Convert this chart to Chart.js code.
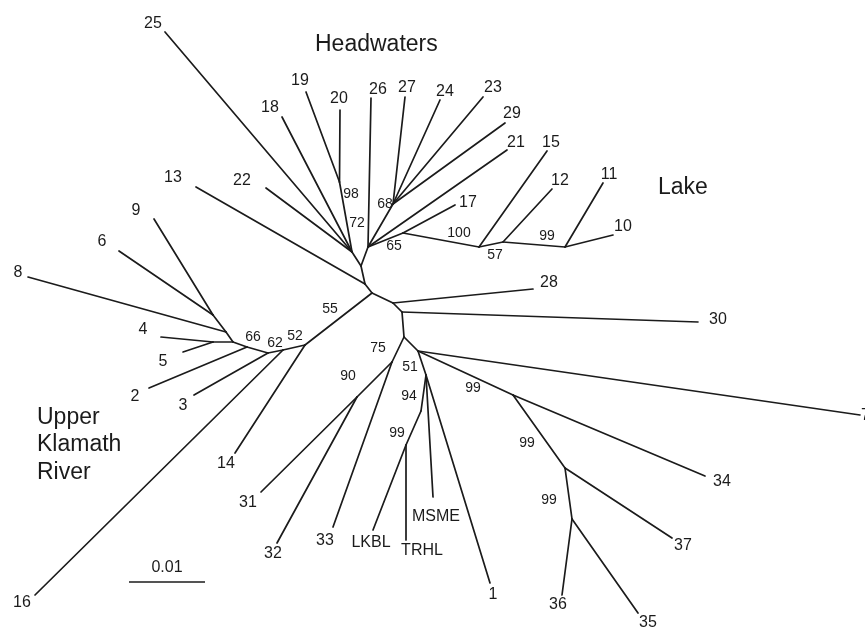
<!DOCTYPE html>
<html>
<head>
<meta charset="utf-8">
<script src="https://cdn.jsdelivr.net/npm/chart.js@4/dist/chart.umd.min.js"></script>
<style>
html,body{margin:0;padding:0;background:#fff;overflow:hidden}
#wrap{width:865px;height:629px}
</style>
</head>
<body>
<div id="wrap"><canvas id="c" width="865" height="629"></canvas></div>
<script>
// ---------------- DATA (tree layout units, x to the right, y downward) ----------------
// Terminal taxa
const tipNames = ['25','19','18','20','26','27','24','23','29','21','17','22','13','15','12','11','10','28','30','7','34','37','36','35','1','MSME','TRHL','LKBL','33','32','31','14','16','3','2','5','4','8','6','9'];
const tipX = [165,306,282,340,371,405,440,483,505,507,455,266,196,547,552,603,613,533,698,860,705,672,562,638,490,433,406,373,333,277,261,235,35,194,149,183,161,28,119,154];
const tipY = [32,92,117,110,98,97,100,97,123,150,205,188,187,151,189,183,235,289,322,415,476,538,595,613,583,497,540,530,527,543,492,453,595,395,388,352,337,277,251,219];

// Internal nodes
const innerNames = ['A','N13','H0','L','R','N98','N68','N17','N57','N12','N99L','N52','Na','Nb','Nc','Nd','N45','N8','N69','B','C','D','N75','N90','E','N99a','N99b','N99c','F','G','H'];
const innerX = [372,365,361,352,368,339.5,393,403,479,503,565,305,283,268,247,233,213,226,213,393,402,404,392,357,418,513,565,572,426,421,406];
const innerY = [293,284,266,252,247,182,204,233,247,242,247,345,350,353,347,342,342,332,315,303,312,337,362,397,351,395,468,519,375,411,445];

// Branches (parent -> child)
const edgeFrom = ['A','N13','N13','H0','H0','L','L','L','L','N98','N98','R','R','N68','N68','N68','N68','R','R','N17','N17','N57','N57','N12','N12','N99L','N99L',
  'A','N52','N52','Na','Na','Nb','Nb','Nc','Nc','Nd','N45','N45','Nd','N8','N8','N69','N69',
  'A','B','B','C','C','D','N75','N75','N90','N90','D','E','E','N99a','N99a','N99b','N99b','N99c','N99c','E','F','F','F','G','H','H'];
const edgeTo = ['N13','13','H0','L','R','25','18','22','N98','19','20','26','N68','27','24','23','29','21','N17','17','N57','15','N12','12','N99L','11','10',
  'N52','14','Na','16','Nb','3','Nc','2','Nd','N45','4','5','N8','8','N69','6','9',
  'B','28','C','30','D','N75','33','N90','31','32','E','7','N99a','34','N99b','37','N99c','36','35','F','1','MSME','G','H','LKBL','TRHL'];

// Bootstrap support values
const supportValues = [98,72,68,65,100,57,99,55,66,62,52,75,90,51,94,99,99,99,99];

// Region names
const regionNames = ['Headwaters','Lake','Upper','Klamath','River'];

// Scale bar (substitutions per site)
const scaleBarValue = 0.01;
const scaleBarLabel = '0.01';
const unitsPerSubstitution = 7600;

// ---------------- LAYOUT (label placement, pixels) ----------------
const tipLabelOffset = {
  '25':[-12,-8],'19':[-6,-11],'18':[-12,-9],'20':[-1,-11],'26':[7,-8],'27':[2,-9],'24':[5,-8],'23':[10,-9],
  '29':[7,-9],'21':[9,-7],'17':[13,-2],'22':[-24,-7],'13':[-23,-9],'15':[4,-8],'12':[8,-8],'11':[6,-8],
  '10':[10,-8],'28':[16,-6],'30':[20,-2],'7':[1,1],'34':[17,6],'37':[11,8],'36':[-4,10],'35':[10,10],
  '1':[3,12],'MSME':[3,20],'TRHL':[16,11],'LKBL':[-2,13],'33':[-8,14],'32':[-4,11],'31':[-13,11],
  '14':[-9,11],'16':[-13,8],'3':[-11,11],'2':[-14,9],'5':[-20,10],'4':[-18,-7],'8':[-10,-4],'6':[-17,-9],'9':[-18,-8]
};
const supportLabelPos = [[351,194],[357,223],[385,204],[394,246],[459,233],[495,255],[547,236],[330,309],[253,337],[275,343],[295,336],[378,348],[348,376],[410,367],[409,396],[397,433],[473,388],[527,443],[549,500]];
const regionLabelPos = [[315,51],[658,194],[37,424],[37,451],[37,479]];
const scaleBarStart = [129,582];

// ---------------- BUILD ----------------
const pos = {};
tipNames.forEach((n,i)=>{pos[n]={x:tipX[i],y:tipY[i]};});
innerNames.forEach((n,i)=>{pos[n]={x:innerX[i],y:innerY[i]};});

const LINE = '#1b1b1b';
const datasets = edgeFrom.map((p,i)=>({
  data:[{x:pos[p].x,y:pos[p].y},{x:pos[edgeTo[i]].x,y:pos[edgeTo[i]].y}],
  showLine:true, borderColor:LINE, borderWidth:1.7, pointRadius:0, pointHoverRadius:0,
  borderCapStyle:'round', borderJoinStyle:'round', fill:false
}));
datasets.push({
  data:[{x:scaleBarStart[0],y:scaleBarStart[1]},{x:scaleBarStart[0]+scaleBarValue*unitsPerSubstitution,y:scaleBarStart[1]}],
  showLine:true, borderColor:LINE, borderWidth:1.7, pointRadius:0, fill:false
});

const FONT = '"Liberation Sans", Arial, Helvetica, sans-serif';
const textPlugin = {
  id:'treeText',
  afterDatasetsDraw(chart){
    const {ctx, scales:{x,y}} = chart;
    ctx.save();
    ctx.fillStyle = '#1b1b1b';
    ctx.textBaseline = 'middle';
    // tip labels
    ctx.font = '16px ' + FONT;
    tipNames.forEach((n,i)=>{
      const o = tipLabelOffset[n];
      const px = x.getPixelForValue(tipX[i]) + o[0];
      const py = y.getPixelForValue(tipY[i]) + o[1];
      if (n === '7') { ctx.textAlign='left'; } else { ctx.textAlign='center'; }
      ctx.fillText(n, px, py);
    });
    // support values
    ctx.textAlign = 'center';
    ctx.font = '14px ' + FONT;
    supportValues.forEach((v,i)=>{
      ctx.fillText(String(v), x.getPixelForValue(supportLabelPos[i][0]), y.getPixelForValue(supportLabelPos[i][1]));
    });
    // scale bar label
    ctx.font = '16px ' + FONT;
    const sbMid = scaleBarStart[0] + scaleBarValue*unitsPerSubstitution/2;
    ctx.fillText(scaleBarLabel, x.getPixelForValue(sbMid), y.getPixelForValue(scaleBarStart[1]) - 14);
    // region names
    ctx.textAlign = 'left';
    ctx.textBaseline = 'alphabetic';
    ctx.font = '23px ' + FONT;
    regionNames.forEach((r,i)=>{
      ctx.fillText(r, x.getPixelForValue(regionLabelPos[i][0]), y.getPixelForValue(regionLabelPos[i][1]));
    });
    ctx.restore();
  }
};

new Chart(document.getElementById('c'), {
  type:'scatter',
  data:{datasets},
  options:{
    responsive:false, animation:false, events:[],
    layout:{padding:0},
    plugins:{legend:{display:false}, tooltip:{enabled:false}},
    scales:{
      x:{type:'linear', min:0, max:865, display:false},
      y:{type:'linear', min:0, max:629, reverse:true, display:false}
    }
  },
  plugins:[textPlugin]
});
</script>
</body>
</html>
